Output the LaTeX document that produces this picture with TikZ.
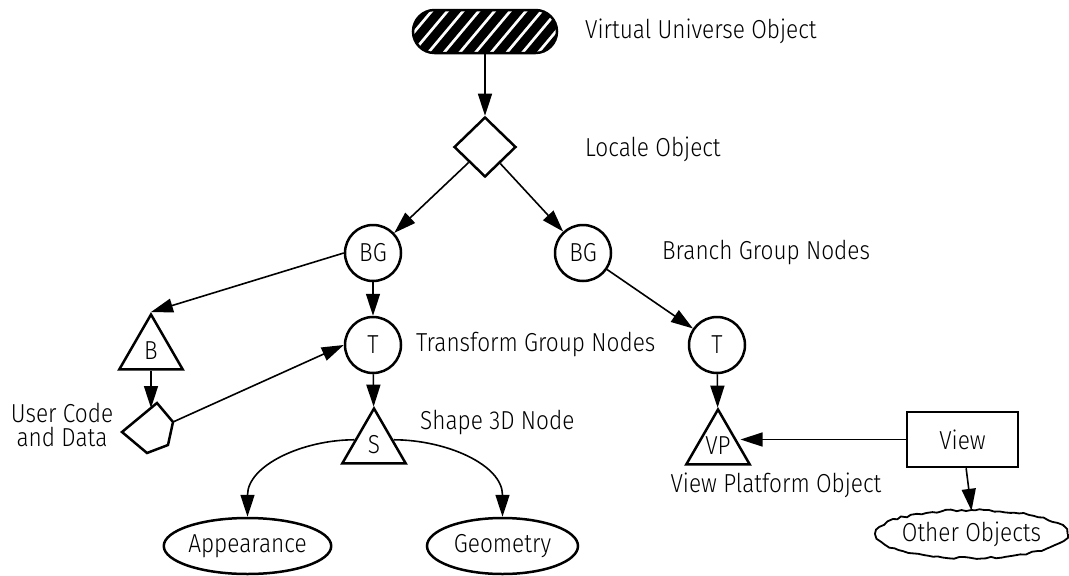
\documentclass[tikz,border=0pt]{standalone}
\usepackage{fontspec}
\setmainfont{Fira Sans Light}[FakeStretch=0.87]
\usetikzlibrary{shapes.geometric,shapes.misc,decorations.pathmorphing,calc,positioning}
\usetikzlibrary{arrows.meta}
\tikzset{>={Triangle[length=22pt,width=14pt]}}
\tikzset{
  obj/.style={draw, line width=2.5pt, inner sep=0pt},
  grp/.style={obj, circle, minimum size=56pt},
  leaf/.style={obj, regular polygon, regular polygon sides=3, minimum size=73pt},
  lbl/.style={anchor=west, inner sep=0pt},
  link/.style={->, line width=1.6pt},
}

\begin{document}
\begin{tikzpicture}[x=1pt, y=-1pt, font=\fontsize{26}{28}\selectfont]
                \useasboundingbox (0,0) rectangle (1069,576);
                \pgfmathsetseed{7}

                % Draw the virtual universe and the locale
                \node[obj, rounded rectangle, minimum width=144pt, minimum height=43pt,
                      path picture={
                        \foreach \k in {0,...,14}
                          \draw[line width=9pt] ([xshift=\k*15.7pt-45pt, yshift=-6pt]path picture bounding box.south west) -- ++(50:75pt);
                      }] (vu) at (485,31.5) {};
                \node[obj, diamond, minimum width=62pt, minimum height=60pt] (loc) at (485,147) {};

                % Draw the group nodes
                \node[grp] (bgl) at (373,253) {BG};
                \node[grp] (bgr) at (583,253) {BG};
                \node[grp] (tl) at (373,345) {T};
                \node[grp] (tr) at (717,345) {T};

                % Draw the leaf nodes
                \node[leaf] (b) at (151,351) {B};
                \node[leaf] (s) at (374,445) {S};
                \node[leaf] (vp) at (718,446) {VP};

                % Draw the user code and data
                \draw[obj] (122,432) coordinate (ucd-l) -- (157,403) coordinate (ucd-t)
                  -- (173,422) coordinate (ucd-r) -- (168,445) -- (147,453) -- cycle;
                \coordinate (ucd-in) at (151,408);

                % Draw the other objects
                \node[obj, ellipse, minimum width=165pt, minimum height=56pt] (app) at (247.5,546) {Appearance};
                \node[obj, ellipse, minimum width=151pt, minimum height=56pt] (geo) at (502.5,546) {Geometry};
                \node[obj, rectangle, minimum width=111pt, minimum height=55pt] (view) at (962.5,439.5) {View};
                \node[inner sep=0pt, minimum width=192pt, minimum height=46pt] (oth) at (971.5,534) {Other Objects};
                \draw[line width=1.8pt, decorate, decoration={random steps, segment length=5pt, amplitude=1.1pt}]
                  (oth.center) ellipse [x radius=96pt, y radius=24pt];

                % Draw the labels
                \node[lbl] (vulbl) at (585,31) {Virtual Universe Object};
                \node[lbl] (loclbl) at (585,149) {Locale Object};
                \node[lbl] (bglbl) at (662,253) {Branch Group Nodes};
                \node[lbl] (tglbl) at (416,345) {Transform Group Nodes};
                \node[lbl] (slbl) at (420,423) {Shape 3D Node};
                \node[inner sep=0pt] (vplbl) at (776,485) {View Platform Object};
                \node[inner sep=0pt, align=center, font=\fontsize{26}{24}\selectfont] (ucdlbl) at (62,425) {User Code\\and Data};

                % Draw the arrows
                \draw[link] (vu) -- (loc);
                \draw[link] (loc) -- (bgl);
                \draw[link] (loc) -- (bgr);
                \draw[link] (bgl.west) -- (b.corner 1);
                \draw[link] (bgl) -- (tl);
                \draw[link] (b) -- (ucd-in);
                \draw[link] (ucd-r) -- (tl.west);
                \draw[link] (tl) -- (s);
                \draw[link] (s.165) to[out=180, in=90] (app);
                \draw[link] (s.15) to[out=0, in=90] (geo);
                \draw[link] (bgr) -- (tr);
                \draw[link] (tr) -- (vp);
                \draw[link] (view.west) -- (view.west -| vp.east);
                \draw[link] (view) -- (oth.north);
            \end{tikzpicture}
\end{document}
